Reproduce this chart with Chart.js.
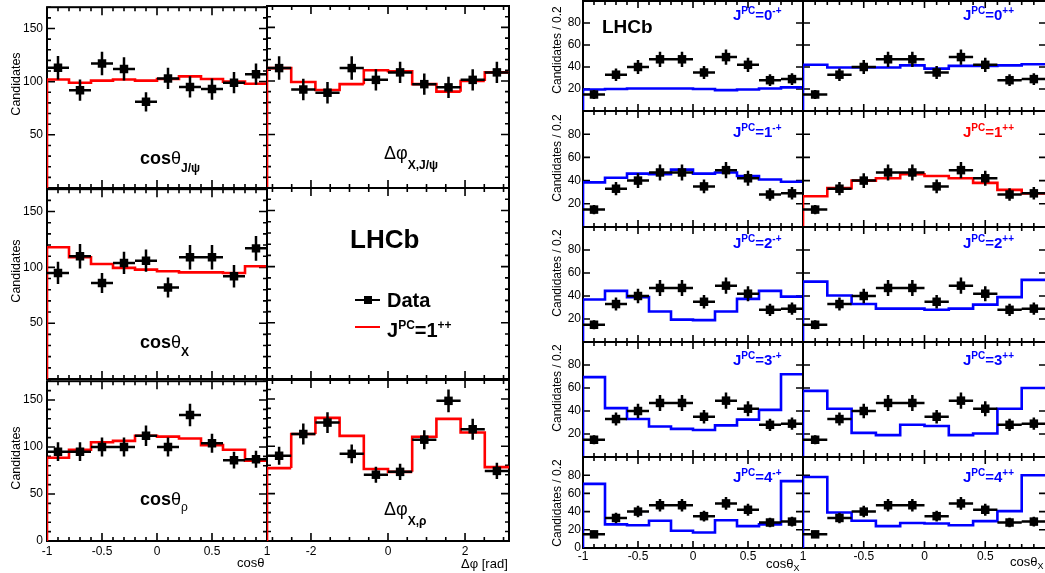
<!DOCTYPE html>
<html>
<head>
<meta charset="utf-8">
<script src="https://cdn.jsdelivr.net/npm/chart.js@4.4.1/dist/chart.umd.min.js"></script>
<style>
html, body { margin:0; padding:0; background:#fff; overflow:hidden; }
body { width:1045px; height:573px; position:relative; font-family:"Liberation Sans", Arial, sans-serif; color:#000; }
canvas.pan { position:absolute; }
.t { position:absolute; white-space:nowrap; }
.vt { position:absolute; white-space:nowrap; transform:translate(-50%,-50%) rotate(-90deg); }
.ln { position:absolute; }
</style>
</head>
<body>
<script>
// bin centres
const cosCenters = [-0.9, -0.7, -0.5, -0.3, -0.1, 0.1, 0.3, 0.5, 0.7, 0.9];
const phiCenters = [-2.827, -2.199, -1.571, -0.942, -0.314, 0.314, 0.942, 1.571, 2.199, 2.827];

// left block: data, errors, 1++ fit
const cosJpsiData = [113, 92, 117, 112, 81, 103, 95, 93, 99, 107];
const cosJpsiErr  = [11, 10, 11, 11, 9, 10, 10, 10, 10, 10];
const cosJpsiFit  = [102, 99, 101, 102, 101, 102.5, 105, 102.5, 100, 98];
const dphiJpsiData = [112, 92, 89, 112, 101, 108, 97, 94, 101, 108];
const dphiJpsiErr  = [11, 10, 10, 11, 10, 10, 10, 10, 10, 10];
const dphiJpsiFit  = [112, 99, 91.5, 97, 110, 109, 97, 90, 100, 108];
const cosXData = [95, 110, 86, 104, 106, 82, 109, 109, 92, 117];
const cosXErr  = [10, 11, 9, 10, 10, 9, 11, 11, 10, 11];
const cosXFit  = [118, 109, 103, 99.5, 98, 96.5, 95.5, 95.5, 95, 101];
const cosRhoData = [95, 95, 100, 100, 112, 100, 134, 104, 86, 87];
const cosRhoErr  = [10, 10, 10, 10, 11, 10, 12, 10, 9, 9];
const cosRhoFit  = [88.5, 97, 105, 106.5, 112, 111, 109, 102, 97, 85.5];
const dphiRhoData = [90, 113, 125, 92, 70, 73, 107, 148, 118, 74];
const dphiRhoErr  = [9.5, 11, 11, 10, 8.5, 8.5, 10, 12, 11, 8.5];
const dphiRhoFit  = [77, 113, 130, 111, 76, 73, 110, 129, 114.5, 78];

// right block: cos(theta_X) data, same in every panel
const thXData = [15, 33, 40, 47, 47, 35, 49, 42, 28, 29];
const thXErr  = [4, 5.7, 6.3, 6.9, 6.9, 5.9, 7, 6.5, 5.3, 5.4];
// J^PC hypotheses
const hypJ = ['0', '1', '2', '3', '4'];
const fitMinusPlus = [
  [19.5, 20, 20.5, 20.5, 20.5, 20, 19, 19.5, 20.5, 21.5],
  [38.5, 42.5, 46, 45.5, 49.5, 46, 47, 44, 41, 39],
  [37, 44.5, 39, 26.5, 19.5, 19, 26.5, 37.5, 44.5, 39.5],
  [69.5, 42.5, 33, 26.5, 24.5, 23.5, 27.5, 32.5, 41, 72],
  [70.5, 26, 25, 30, 19, 17, 30.5, 24, 26, 73.5]
];
const fitPlusPlus = [
  [42, 39.5, 39.5, 39.5, 41.5, 38.5, 41, 41, 41.5, 42.5],
  [26.5, 33.5, 40, 42, 45.5, 44, 42, 38, 32, 29],
  [52.5, 40.5, 33, 29, 29, 28, 29, 32.5, 39, 54],
  [57.5, 42, 21, 19, 28, 27, 19, 20.5, 42, 60],
  [78, 39, 30, 24, 27.5, 27, 25, 29.5, 40.5, 80]
];

// tick labels
const cosTicks = [-1, -0.5, 0, 0.5, 1];
const phiTicks = [-2, 0, 2];
const leftYTicks = [0, 50, 100, 150];
const rightYTicks = [0, 20, 40, 60, 80];

const RED = '#ff0000', BLUE = '#0000ff';
const FONT = 'Liberation Sans';

function steps(a, b, s) {
  const out = [];
  for (let v = a; v <= b + 1e-9; v += s) out.push(Math.round(v * 1000) / 1000);
  return out;
}

const axes = {
  cos: { min: -1, max: 1, major: cosTicks, minor: steps(-1, 1, 0.1), hw: 0.1 },
  phi: { min: -Math.PI, max: Math.PI, major: phiTicks, minor: steps(-3, 3, 0.5), hw: Math.PI / 10 },
  L: { min: 0, max: 170, major: leftYTicks, minor: steps(0, 170, 10) },
  R: { min: 0, max: 100, major: rightYTicks.concat([100]), minor: [] }
};

function makePanel(p) {
  // the y scale box is padL wide, the x scale box padB high: labels are clipped to them
  const padL = 48, padR = 12, padT = 10, padB = 28;
  const w = p.x1 - p.x0 + padL + padR, h = p.y1 - p.y0 + padT + padB;
  const cv = document.createElement('canvas');
  cv.className = 'pan';
  cv.width = w; cv.height = h;
  cv.style.left = (p.x0 - padL) + 'px';
  cv.style.top = (p.y0 - padT) + 'px';
  cv.style.width = w + 'px'; cv.style.height = h + 'px';
  document.body.appendChild(cv);

  const ax = axes[p.xk], ay = axes[p.yk];
  const hw = ax.hw;
  const datasets = [];
  if (p.d) {
    const marks = p.c.map((c, i) => ({ x: c, y: p.d[i] }));
    const hbar = [], vbar = [];
    p.c.forEach((c, i) => {
      hbar.push({ x: c - hw, y: p.d[i] }, { x: c + hw, y: p.d[i] }, { x: c, y: null });
      vbar.push({ x: c, y: p.d[i] - p.e[i] }, { x: c, y: p.d[i] + p.e[i] }, { x: c, y: null });
    });
    const st = [{ x: p.c[0] - hw, y: 0 }];
    p.c.forEach((c, i) => st.push({ x: c - hw, y: p.f[i] }, { x: c + hw, y: p.f[i] }));
    datasets.push({ data: marks, showLine: false, pointStyle: 'rect', pointRadius: 6, backgroundColor: '#000', borderWidth: 0 });
    datasets.push({ data: hbar, showLine: true, spanGaps: false, borderColor: '#000', borderWidth: 2.5, pointRadius: 0 });
    datasets.push({ data: vbar, showLine: true, spanGaps: false, borderColor: '#000', borderWidth: 2.5, pointRadius: 0 });
    datasets.push({ data: st, showLine: true, borderColor: p.col, borderWidth: 2.6, pointRadius: 0 });
  }

  const tMaj = p.yk === 'L' ? 8 : 7, tMin = 4;
  const frame = {
    id: 'frame',
    beforeDatasetsDraw(chart) {
      const { ctx, chartArea: a, scales: { x, y } } = chart;
      ctx.save();
      ctx.strokeStyle = '#000';
      ctx.lineWidth = 1.6;
      ctx.beginPath();
      const xt = (v, l) => { const px = x.getPixelForValue(v); ctx.moveTo(px, a.bottom); ctx.lineTo(px, a.bottom - l); ctx.moveTo(px, a.top); ctx.lineTo(px, a.top + l); };
      const yt = (v, l) => { const py = y.getPixelForValue(v); ctx.moveTo(a.left, py); ctx.lineTo(a.left + l, py); ctx.moveTo(a.right, py); ctx.lineTo(a.right - l, py); };
      ax.minor.forEach(v => xt(v, tMin));
      ax.major.forEach(v => xt(v, tMaj));
      ay.minor.forEach(v => yt(v, tMin));
      ay.major.forEach(v => yt(v, tMaj));
      ctx.stroke();
      ctx.lineWidth = 2;
      ctx.strokeRect(a.left, a.top, a.right - a.left, a.bottom - a.top);
      ctx.restore();
    }
  };

  new Chart(cv, {
    type: 'scatter',
    data: { datasets },
    options: {
      responsive: false, animation: false, events: [],
      layout: { padding: { left: 0, right: padR, top: padT, bottom: 0 }, autoPadding: false },
      plugins: { legend: { display: false }, tooltip: { enabled: false } },
      scales: {
        x: {
          type: 'linear', min: ax.min, max: ax.max,
          afterFit: s => { s.height = padB; },
          afterBuildTicks: s => { s.ticks = (p.xl || []).map(v => ({ value: v })); },
          grid: { display: false, drawTicks: false }, border: { display: false },
          ticks: { display: !!p.xl, autoSkip: false, maxRotation: 0, padding: p.xpad || 0, color: '#000',
                   font: { family: FONT, size: 12 }, callback: v => String(v) }
        },
        y: {
          type: 'linear', min: ay.min, max: ay.max,
          afterFit: s => { s.width = padL; },
          afterBuildTicks: s => { s.ticks = (p.yl || []).map(v => ({ value: v })); },
          grid: { display: false, drawTicks: false }, border: { display: false },
          ticks: { display: !!p.yl, autoSkip: false, padding: p.ypad || 0, color: '#000',
                   font: { family: FONT, size: 12 }, callback: v => String(v) }
        }
      }
    },
    plugins: [frame]
  });
}

// left block
const leftPanels = [
  { x0: 47, x1: 267, y0: 6, y1: 188, xk: 'cos', yk: 'L', yl: [50, 100, 150], c: cosCenters, d: cosJpsiData, e: cosJpsiErr, f: cosJpsiFit, col: RED, ypad: 4 },
  { x0: 267, x1: 509, y0: 6, y1: 188, xk: 'phi', yk: 'L', c: phiCenters, d: dphiJpsiData, e: dphiJpsiErr, f: dphiJpsiFit, col: RED },
  { x0: 47, x1: 267, y0: 188, y1: 379, xk: 'cos', yk: 'L', yl: [50, 100, 150], c: cosCenters, d: cosXData, e: cosXErr, f: cosXFit, col: RED, ypad: 4 },
  { x0: 267, x1: 509, y0: 188, y1: 379, xk: 'phi', yk: 'L' },
  { x0: 47, x1: 267, y0: 380, y1: 541, xk: 'cos', yk: 'L', yl: leftYTicks, xl: cosTicks, c: cosCenters, d: cosRhoData, e: cosRhoErr, f: cosRhoFit, col: RED, ypad: 4, xpad: 3 },
  { x0: 267, x1: 509, y0: 380, y1: 541, xk: 'phi', yk: 'L', xl: phiTicks, c: phiCenters, d: dphiRhoData, e: dphiRhoErr, f: dphiRhoFit, col: RED, xpad: 3 }
];
leftPanels.forEach(makePanel);

// right block
const rowEdges = [[1, 111], [111, 227], [227, 342], [342, 457], [457, 548]];
rowEdges.forEach((r, i) => {
  const last = i === rowEdges.length - 1;
  makePanel({ x0: 583, x1: 803, y0: r[0], y1: r[1], xk: 'cos', yk: 'R', yl: last ? rightYTicks : rightYTicks.slice(1),
              xl: last ? cosTicks : null, c: cosCenters, d: thXData, e: thXErr, f: fitMinusPlus[i], col: BLUE, ypad: 2, xpad: 1 });
  makePanel({ x0: 803, x1: 1046, y0: r[0], y1: r[1], xk: 'cos', yk: 'R',
              xl: last ? [-0.5, 0, 0.5] : null, c: cosCenters, d: thXData, e: thXErr, f: fitPlusPlus[i], col: i === 1 ? RED : BLUE, xpad: 1 });
});

// text
function txt(html, left, base, size, style) {
  const d = document.createElement('div');
  d.className = 't';
  d.style.left = left + 'px';
  d.style.top = (base - 0.8465 * size) + 'px';
  d.style.fontSize = size + 'px';
  d.style.lineHeight = size + 'px';
  if (style) d.style.cssText += style;
  d.innerHTML = html;
  document.body.appendChild(d);
}
function vtxt(s, cx, cy, size) {
  const d = document.createElement('div');
  d.className = 'vt';
  d.style.left = cx + 'px'; d.style.top = cy + 'px';
  d.style.fontSize = size + 'px';
  d.textContent = s;
  document.body.appendChild(d);
}
function box(left, top, w, h, color) {
  const d = document.createElement('div');
  d.className = 'ln';
  d.style.cssText += `left:${left}px;top:${top}px;width:${w}px;height:${h}px;background:${color}`;
  document.body.appendChild(d);
}
const sub = (s, size, dy, bold) => `<span style="position:relative;top:${dy}px;font-size:${size}px;font-weight:${bold ? 'bold' : 'normal'}">${s}</span>`;

[84, 271, 458].forEach(cy => vtxt('Candidates', 16, cy, 12.5));
[50, 158, 273, 388, 503].forEach(cy => vtxt('Candidates / 0.2', 557, cy, 12));

txt('<b>cos</b>θ' + sub('J/ψ', 12, 8, true), 140, 164, 18);
txt('Δφ' + sub('X,J/ψ', 12, 10, true), 384, 159, 18);
txt('<b>cos</b>θ' + sub('X', 12, 8, true), 140, 348, 18);
txt('<b>cos</b>θ' + sub('ρ', 12, 6, false), 140, 505, 18);
txt('Δφ' + sub('X,ρ', 12, 10, true), 384, 515, 18);

txt('<b>LHCb</b>', 350, 248, 26);
box(355, 299, 25, 2, '#000');
box(364, 296, 8, 8, '#000');
txt('<b>Data</b>', 387, 307, 20);
box(355, 326, 25, 2, RED);
txt('<b>J' + sub('PC', 12, -8, true) + '=1' + sub('++', 12, -8, true) + '</b>', 387, 337, 20);

txt('<b>LHCb</b>', 602, 33, 19);
const rowBase = [20, 137, 248, 365, 482];
hypJ.forEach((j, i) => {
  txt('<b>J' + sub('PC', 10, -6, true) + '=' + j + sub('-+', 10, -6, true) + '</b>', 733, rowBase[i], 15, 'color:' + BLUE);
  txt('<b>J' + sub('PC', 10, -6, true) + '=' + j + sub('++', 10, -6, true) + '</b>', 963, rowBase[i], 15, 'color:' + (i === 1 ? RED : BLUE));
});

txt('cosθ', 237, 567, 13);
txt('Δφ [rad]', 461, 568, 13);
txt('cosθ' + sub('X', 9, 3, false), 766, 568, 13);
txt('cosθ' + sub('X', 9, 3, false), 1010, 566, 13);
</script>
</body>
</html>
